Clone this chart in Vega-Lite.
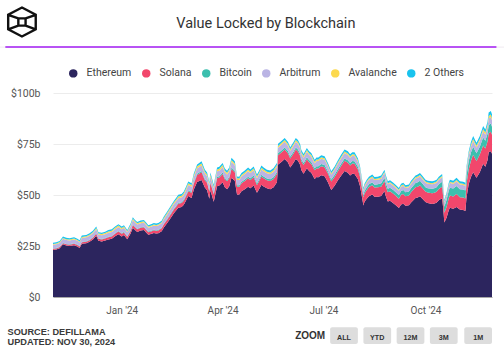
{
  "$schema": "https://vega.github.io/schema/vega-lite/v6.json",
  "width": 439,
  "height": 204,
  "autosize": {"type": "none"},
  "padding": {"left": 53, "top": 93, "right": 12, "bottom": 55},
  "background": "white",
  "config": {"view": {"stroke": null}, "font": "Roboto"},
  "datasets": {
    "chains": [
      {"chain": "Ethereum", "rank": 1},
      {"chain": "Solana", "rank": 2},
      {"chain": "Bitcoin", "rank": 3},
      {"chain": "Arbitrum", "rank": 4},
      {"chain": "Avalanche", "rank": 5},
      {"chain": "2 Others", "rank": 6}
    ],
    "tvl": [
      {"date":"2023-10-31","Ethereum":23.1,"Solana":0.5,"Bitcoin":0.2,"Arbitrum":1.8,"Avalanche":0.4,"2 Others":0.6},
      {"date":"2023-11-03","Ethereum":23.3,"Solana":0.5,"Bitcoin":0.2,"Arbitrum":1.8,"Avalanche":0.4,"2 Others":0.6},
      {"date":"2023-11-06","Ethereum":23.9,"Solana":0.55,"Bitcoin":0.2,"Arbitrum":1.85,"Avalanche":0.4,"2 Others":0.6},
      {"date":"2023-11-09","Ethereum":25.8,"Solana":0.6,"Bitcoin":0.2,"Arbitrum":1.9,"Avalanche":0.45,"2 Others":0.65},
      {"date":"2023-11-12","Ethereum":25.2,"Solana":0.6,"Bitcoin":0.2,"Arbitrum":1.9,"Avalanche":0.45,"2 Others":0.65},
      {"date":"2023-11-15","Ethereum":25.0,"Solana":0.65,"Bitcoin":0.2,"Arbitrum":1.9,"Avalanche":0.45,"2 Others":0.6},
      {"date":"2023-11-19","Ethereum":25.4,"Solana":0.7,"Bitcoin":0.2,"Arbitrum":1.9,"Avalanche":0.45,"2 Others":0.65},
      {"date":"2023-11-22","Ethereum":24.8,"Solana":0.7,"Bitcoin":0.2,"Arbitrum":1.85,"Avalanche":0.45,"2 Others":0.6},
      {"date":"2023-11-24","Ethereum":24.05,"Solana":0.7,"Bitcoin":0.2,"Arbitrum":1.8,"Avalanche":0.45,"2 Others":0.6},
      {"date":"2023-11-26","Ethereum":26.1,"Solana":0.75,"Bitcoin":0.2,"Arbitrum":1.9,"Avalanche":0.5,"2 Others":0.65},
      {"date":"2023-11-30","Ethereum":26.33,"Solana":0.8,"Bitcoin":0.22,"Arbitrum":1.9,"Avalanche":0.5,"2 Others":0.65},
      {"date":"2023-12-03","Ethereum":27.03,"Solana":0.85,"Bitcoin":0.22,"Arbitrum":1.95,"Avalanche":0.5,"2 Others":0.65},
      {"date":"2023-12-06","Ethereum":28.2,"Solana":0.9,"Bitcoin":0.25,"Arbitrum":1.95,"Avalanche":0.5,"2 Others":0.7},
      {"date":"2023-12-09","Ethereum":30.05,"Solana":0.95,"Bitcoin":0.25,"Arbitrum":2.0,"Avalanche":0.55,"2 Others":0.7},
      {"date":"2023-12-11","Ethereum":27.6,"Solana":0.9,"Bitcoin":0.25,"Arbitrum":1.9,"Avalanche":0.5,"2 Others":0.65},
      {"date":"2023-12-14","Ethereum":27.2,"Solana":0.95,"Bitcoin":0.25,"Arbitrum":1.9,"Avalanche":0.55,"2 Others":0.65},
      {"date":"2023-12-17","Ethereum":27.65,"Solana":1.0,"Bitcoin":0.25,"Arbitrum":1.9,"Avalanche":0.55,"2 Others":0.65},
      {"date":"2023-12-20","Ethereum":28.2,"Solana":1.1,"Bitcoin":0.25,"Arbitrum":1.95,"Avalanche":0.6,"2 Others":0.7},
      {"date":"2023-12-23","Ethereum":28.52,"Solana":1.15,"Bitcoin":0.28,"Arbitrum":1.95,"Avalanche":0.6,"2 Others":0.7},
      {"date":"2023-12-26","Ethereum":29.72,"Solana":1.25,"Bitcoin":0.28,"Arbitrum":2.0,"Avalanche":0.65,"2 Others":0.7},
      {"date":"2023-12-29","Ethereum":30.75,"Solana":1.3,"Bitcoin":0.3,"Arbitrum":2.0,"Avalanche":0.65,"2 Others":0.7},
      {"date":"2024-01-01","Ethereum":29.65,"Solana":1.3,"Bitcoin":0.3,"Arbitrum":1.95,"Avalanche":0.6,"2 Others":0.7},
      {"date":"2024-01-03","Ethereum":30.35,"Solana":1.3,"Bitcoin":0.3,"Arbitrum":1.95,"Avalanche":0.6,"2 Others":0.7},
      {"date":"2024-01-06","Ethereum":28.32,"Solana":1.2,"Bitcoin":0.28,"Arbitrum":1.9,"Avalanche":0.55,"2 Others":0.65},
      {"date":"2024-01-09","Ethereum":31.1,"Solana":1.3,"Bitcoin":0.3,"Arbitrum":2.0,"Avalanche":0.6,"2 Others":0.7},
      {"date":"2024-01-11","Ethereum":33.9,"Solana":1.4,"Bitcoin":0.3,"Arbitrum":2.1,"Avalanche":0.65,"2 Others":0.75},
      {"date":"2024-01-13","Ethereum":32.8,"Solana":1.35,"Bitcoin":0.3,"Arbitrum":2.05,"Avalanche":0.6,"2 Others":0.7},
      {"date":"2024-01-15","Ethereum":31.9,"Solana":1.3,"Bitcoin":0.3,"Arbitrum":2.0,"Avalanche":0.6,"2 Others":0.7},
      {"date":"2024-01-18","Ethereum":32.55,"Solana":1.35,"Bitcoin":0.3,"Arbitrum":2.0,"Avalanche":0.6,"2 Others":0.7},
      {"date":"2024-01-21","Ethereum":32.8,"Solana":1.35,"Bitcoin":0.3,"Arbitrum":2.05,"Avalanche":0.6,"2 Others":0.7},
      {"date":"2024-01-23","Ethereum":31.65,"Solana":1.3,"Bitcoin":0.3,"Arbitrum":2.0,"Avalanche":0.55,"2 Others":0.7},
      {"date":"2024-01-25","Ethereum":30.5,"Solana":1.25,"Bitcoin":0.3,"Arbitrum":1.95,"Avalanche":0.55,"2 Others":0.65},
      {"date":"2024-01-28","Ethereum":30.95,"Solana":1.3,"Bitcoin":0.3,"Arbitrum":2.0,"Avalanche":0.55,"2 Others":0.7},
      {"date":"2024-01-30","Ethereum":31.35,"Solana":1.35,"Bitcoin":0.3,"Arbitrum":2.0,"Avalanche":0.6,"2 Others":0.7},
      {"date":"2024-02-01","Ethereum":31.1,"Solana":1.35,"Bitcoin":0.3,"Arbitrum":2.0,"Avalanche":0.55,"2 Others":0.7},
      {"date":"2024-02-03","Ethereum":31.25,"Solana":1.4,"Bitcoin":0.3,"Arbitrum":2.05,"Avalanche":0.6,"2 Others":0.7},
      {"date":"2024-02-06","Ethereum":32.23,"Solana":1.45,"Bitcoin":0.32,"Arbitrum":2.1,"Avalanche":0.6,"2 Others":0.7},
      {"date":"2024-02-08","Ethereum":34.07,"Solana":1.55,"Bitcoin":0.33,"Arbitrum":2.15,"Avalanche":0.65,"2 Others":0.75},
      {"date":"2024-02-11","Ethereum":36.25,"Solana":1.65,"Bitcoin":0.35,"Arbitrum":2.2,"Avalanche":0.7,"2 Others":0.75},
      {"date":"2024-02-14","Ethereum":38.63,"Solana":1.75,"Bitcoin":0.37,"Arbitrum":2.25,"Avalanche":0.7,"2 Others":0.8},
      {"date":"2024-02-17","Ethereum":41.05,"Solana":1.8,"Bitcoin":0.4,"Arbitrum":2.3,"Avalanche":0.75,"2 Others":0.8},
      {"date":"2024-02-19","Ethereum":42.4,"Solana":1.85,"Bitcoin":0.4,"Arbitrum":2.3,"Avalanche":0.75,"2 Others":0.8},
      {"date":"2024-02-21","Ethereum":43.78,"Solana":1.9,"Bitcoin":0.42,"Arbitrum":2.35,"Avalanche":0.8,"2 Others":0.85},
      {"date":"2024-02-24","Ethereum":44.13,"Solana":1.95,"Bitcoin":0.42,"Arbitrum":2.35,"Avalanche":0.8,"2 Others":0.85},
      {"date":"2024-02-26","Ethereum":45.2,"Solana":2.0,"Bitcoin":0.45,"Arbitrum":2.4,"Avalanche":0.8,"2 Others":0.85},
      {"date":"2024-02-28","Ethereum":47.3,"Solana":2.1,"Bitcoin":0.45,"Arbitrum":2.45,"Avalanche":0.85,"2 Others":0.85},
      {"date":"2024-03-01","Ethereum":49.55,"Solana":2.3,"Bitcoin":0.5,"Arbitrum":2.5,"Avalanche":0.85,"2 Others":0.9},
      {"date":"2024-03-04","Ethereum":48.55,"Solana":2.5,"Bitcoin":0.5,"Arbitrum":2.5,"Avalanche":0.85,"2 Others":0.9},
      {"date":"2024-03-06","Ethereum":52.65,"Solana":2.9,"Bitcoin":0.55,"Arbitrum":2.6,"Avalanche":0.9,"2 Others":0.9},
      {"date":"2024-03-09","Ethereum":56.4,"Solana":3.4,"Bitcoin":0.6,"Arbitrum":2.7,"Avalanche":0.95,"2 Others":0.95},
      {"date":"2024-03-13","Ethereum":57.3,"Solana":3.8,"Bitcoin":0.65,"Arbitrum":2.75,"Avalanche":1.0,"2 Others":1.0},
      {"date":"2024-03-16","Ethereum":53.65,"Solana":3.6,"Bitcoin":0.6,"Arbitrum":2.65,"Avalanche":0.95,"2 Others":0.95},
      {"date":"2024-03-18","Ethereum":52.35,"Solana":3.6,"Bitcoin":0.6,"Arbitrum":2.6,"Avalanche":0.9,"2 Others":0.95},
      {"date":"2024-03-20","Ethereum":48.2,"Solana":3.4,"Bitcoin":0.55,"Arbitrum":2.5,"Avalanche":0.85,"2 Others":0.9},
      {"date":"2024-03-21","Ethereum":52.35,"Solana":3.6,"Bitcoin":0.6,"Arbitrum":2.6,"Avalanche":0.9,"2 Others":0.95},
      {"date":"2024-03-24","Ethereum":46.7,"Solana":3.5,"Bitcoin":0.55,"Arbitrum":2.5,"Avalanche":0.85,"2 Others":0.9},
      {"date":"2024-03-27","Ethereum":54.35,"Solana":3.9,"Bitcoin":0.65,"Arbitrum":2.7,"Avalanche":0.95,"2 Others":0.95},
      {"date":"2024-03-29","Ethereum":54.65,"Solana":3.9,"Bitcoin":0.65,"Arbitrum":2.7,"Avalanche":0.95,"2 Others":0.95},
      {"date":"2024-04-01","Ethereum":56.3,"Solana":4.0,"Bitcoin":0.7,"Arbitrum":2.75,"Avalanche":0.95,"2 Others":1.0},
      {"date":"2024-04-03","Ethereum":53.85,"Solana":3.9,"Bitcoin":0.7,"Arbitrum":2.7,"Avalanche":0.9,"2 Others":0.95},
      {"date":"2024-04-05","Ethereum":52.8,"Solana":3.9,"Bitcoin":0.7,"Arbitrum":2.65,"Avalanche":0.9,"2 Others":0.95},
      {"date":"2024-04-07","Ethereum":54.25,"Solana":4.0,"Bitcoin":0.7,"Arbitrum":2.7,"Avalanche":0.9,"2 Others":0.95},
      {"date":"2024-04-09","Ethereum":58.5,"Solana":4.2,"Bitcoin":0.75,"Arbitrum":2.8,"Avalanche":0.95,"2 Others":1.0},
      {"date":"2024-04-12","Ethereum":57.0,"Solana":4.1,"Bitcoin":0.75,"Arbitrum":2.75,"Avalanche":0.9,"2 Others":1.0},
      {"date":"2024-04-14","Ethereum":50.3,"Solana":3.8,"Bitcoin":0.7,"Arbitrum":2.55,"Avalanche":0.8,"2 Others":0.95},
      {"date":"2024-04-16","Ethereum":50.25,"Solana":3.8,"Bitcoin":0.7,"Arbitrum":2.55,"Avalanche":0.8,"2 Others":0.9},
      {"date":"2024-04-18","Ethereum":51.8,"Solana":3.9,"Bitcoin":0.75,"Arbitrum":2.6,"Avalanche":0.8,"2 Others":0.95},
      {"date":"2024-04-21","Ethereum":52.85,"Solana":4.0,"Bitcoin":0.8,"Arbitrum":2.6,"Avalanche":0.8,"2 Others":0.95},
      {"date":"2024-04-24","Ethereum":54.1,"Solana":4.1,"Bitcoin":0.8,"Arbitrum":2.65,"Avalanche":0.85,"2 Others":1.0},
      {"date":"2024-04-26","Ethereum":53.35,"Solana":4.0,"Bitcoin":0.8,"Arbitrum":2.6,"Avalanche":0.8,"2 Others":0.95},
      {"date":"2024-04-29","Ethereum":54.6,"Solana":4.1,"Bitcoin":0.8,"Arbitrum":2.65,"Avalanche":0.85,"2 Others":1.0},
      {"date":"2024-05-02","Ethereum":51.05,"Solana":3.9,"Bitcoin":0.8,"Arbitrum":2.5,"Avalanche":0.8,"2 Others":0.95},
      {"date":"2024-05-04","Ethereum":52.9,"Solana":4.0,"Bitcoin":0.8,"Arbitrum":2.55,"Avalanche":0.8,"2 Others":0.95},
      {"date":"2024-05-06","Ethereum":55.0,"Solana":4.1,"Bitcoin":0.85,"Arbitrum":2.6,"Avalanche":0.85,"2 Others":1.0},
      {"date":"2024-05-08","Ethereum":54.15,"Solana":4.1,"Bitcoin":0.85,"Arbitrum":2.6,"Avalanche":0.8,"2 Others":1.0},
      {"date":"2024-05-11","Ethereum":53.25,"Solana":4.0,"Bitcoin":0.85,"Arbitrum":2.55,"Avalanche":0.8,"2 Others":0.95},
      {"date":"2024-05-14","Ethereum":52.85,"Solana":4.0,"Bitcoin":0.85,"Arbitrum":2.55,"Avalanche":0.8,"2 Others":0.95},
      {"date":"2024-05-17","Ethereum":53.8,"Solana":4.1,"Bitcoin":0.9,"Arbitrum":2.6,"Avalanche":0.8,"2 Others":1.0},
      {"date":"2024-05-20","Ethereum":56.2,"Solana":4.2,"Bitcoin":0.9,"Arbitrum":2.6,"Avalanche":0.8,"2 Others":1.0},
      {"date":"2024-05-21","Ethereum":65.0,"Solana":4.5,"Bitcoin":0.95,"Arbitrum":2.75,"Avalanche":0.85,"2 Others":1.05},
      {"date":"2024-05-24","Ethereum":66.2,"Solana":4.6,"Bitcoin":1.0,"Arbitrum":2.8,"Avalanche":0.85,"2 Others":1.05},
      {"date":"2024-05-27","Ethereum":67.7,"Solana":4.6,"Bitcoin":1.0,"Arbitrum":2.8,"Avalanche":0.85,"2 Others":1.05},
      {"date":"2024-05-30","Ethereum":65.9,"Solana":4.5,"Bitcoin":1.0,"Arbitrum":2.75,"Avalanche":0.85,"2 Others":1.0},
      {"date":"2024-06-01","Ethereum":63.5,"Solana":4.4,"Bitcoin":1.0,"Arbitrum":2.7,"Avalanche":0.8,"2 Others":1.0},
      {"date":"2024-06-04","Ethereum":65.85,"Solana":4.5,"Bitcoin":1.0,"Arbitrum":2.75,"Avalanche":0.85,"2 Others":1.05},
      {"date":"2024-06-06","Ethereum":67.65,"Solana":4.6,"Bitcoin":1.05,"Arbitrum":2.8,"Avalanche":0.85,"2 Others":1.05},
      {"date":"2024-06-08","Ethereum":66.8,"Solana":4.5,"Bitcoin":1.05,"Arbitrum":2.75,"Avalanche":0.85,"2 Others":1.05},
      {"date":"2024-06-10","Ethereum":64.75,"Solana":4.4,"Bitcoin":1.05,"Arbitrum":2.7,"Avalanche":0.8,"2 Others":1.0},
      {"date":"2024-06-11","Ethereum":62.25,"Solana":4.3,"Bitcoin":1.0,"Arbitrum":2.65,"Avalanche":0.8,"2 Others":1.0},
      {"date":"2024-06-13","Ethereum":60.4,"Solana":4.3,"Bitcoin":1.0,"Arbitrum":2.6,"Avalanche":0.8,"2 Others":1.0},
      {"date":"2024-06-16","Ethereum":63.1,"Solana":4.4,"Bitcoin":1.05,"Arbitrum":2.65,"Avalanche":0.8,"2 Others":1.0},
      {"date":"2024-06-18","Ethereum":61.75,"Solana":4.3,"Bitcoin":1.05,"Arbitrum":2.6,"Avalanche":0.8,"2 Others":1.0},
      {"date":"2024-06-20","Ethereum":60.85,"Solana":4.3,"Bitcoin":1.05,"Arbitrum":2.6,"Avalanche":0.8,"2 Others":1.0},
      {"date":"2024-06-23","Ethereum":57.9,"Solana":4.2,"Bitcoin":1.0,"Arbitrum":2.5,"Avalanche":0.75,"2 Others":0.95},
      {"date":"2024-06-25","Ethereum":58.9,"Solana":4.3,"Bitcoin":1.05,"Arbitrum":2.55,"Avalanche":0.75,"2 Others":0.95},
      {"date":"2024-06-26","Ethereum":58.6,"Solana":4.3,"Bitcoin":1.05,"Arbitrum":2.55,"Avalanche":0.75,"2 Others":0.95},
      {"date":"2024-06-29","Ethereum":59.65,"Solana":4.4,"Bitcoin":1.1,"Arbitrum":2.6,"Avalanche":0.75,"2 Others":1.0},
      {"date":"2024-07-02","Ethereum":59.15,"Solana":4.4,"Bitcoin":1.1,"Arbitrum":2.6,"Avalanche":0.75,"2 Others":1.0},
      {"date":"2024-07-05","Ethereum":56.3,"Solana":4.2,"Bitcoin":1.05,"Arbitrum":2.5,"Avalanche":0.7,"2 Others":0.95},
      {"date":"2024-07-08","Ethereum":52.5,"Solana":4.1,"Bitcoin":1.0,"Arbitrum":2.4,"Avalanche":0.7,"2 Others":0.9},
      {"date":"2024-07-11","Ethereum":54.55,"Solana":4.3,"Bitcoin":1.05,"Arbitrum":2.45,"Avalanche":0.7,"2 Others":0.95},
      {"date":"2024-07-14","Ethereum":57.2,"Solana":4.5,"Bitcoin":1.1,"Arbitrum":2.5,"Avalanche":0.75,"2 Others":0.95},
      {"date":"2024-07-17","Ethereum":59.55,"Solana":4.8,"Bitcoin":1.15,"Arbitrum":2.55,"Avalanche":0.75,"2 Others":1.0},
      {"date":"2024-07-20","Ethereum":61.75,"Solana":5.0,"Bitcoin":1.2,"Arbitrum":2.6,"Avalanche":0.75,"2 Others":1.0},
      {"date":"2024-07-23","Ethereum":60.85,"Solana":5.0,"Bitcoin":1.2,"Arbitrum":2.6,"Avalanche":0.75,"2 Others":1.0},
      {"date":"2024-07-25","Ethereum":59.6,"Solana":4.9,"Bitcoin":1.2,"Arbitrum":2.55,"Avalanche":0.75,"2 Others":1.0},
      {"date":"2024-07-27","Ethereum":60.45,"Solana":5.0,"Bitcoin":1.2,"Arbitrum":2.6,"Avalanche":0.75,"2 Others":1.0},
      {"date":"2024-07-29","Ethereum":60.35,"Solana":5.0,"Bitcoin":1.2,"Arbitrum":2.6,"Avalanche":0.75,"2 Others":1.0},
      {"date":"2024-08-01","Ethereum":57.85,"Solana":4.8,"Bitcoin":1.2,"Arbitrum":2.5,"Avalanche":0.7,"2 Others":0.95},
      {"date":"2024-08-03","Ethereum":54.25,"Solana":4.6,"Bitcoin":1.15,"Arbitrum":2.4,"Avalanche":0.65,"2 Others":0.95},
      {"date":"2024-08-05","Ethereum":48.2,"Solana":4.0,"Bitcoin":1.1,"Arbitrum":2.2,"Avalanche":0.6,"2 Others":0.9},
      {"date":"2024-08-06","Ethereum":44.9,"Solana":3.9,"Bitcoin":1.1,"Arbitrum":2.1,"Avalanche":0.55,"2 Others":0.85},
      {"date":"2024-08-07","Ethereum":46.65,"Solana":4.1,"Bitcoin":1.2,"Arbitrum":2.15,"Avalanche":0.55,"2 Others":0.85},
      {"date":"2024-08-09","Ethereum":48.2,"Solana":4.3,"Bitcoin":1.3,"Arbitrum":2.2,"Avalanche":0.6,"2 Others":0.9},
      {"date":"2024-08-11","Ethereum":49.4,"Solana":4.5,"Bitcoin":1.35,"Arbitrum":2.25,"Avalanche":0.6,"2 Others":0.9},
      {"date":"2024-08-14","Ethereum":50.2,"Solana":4.6,"Bitcoin":1.4,"Arbitrum":2.3,"Avalanche":0.6,"2 Others":0.9},
      {"date":"2024-08-16","Ethereum":49.15,"Solana":4.5,"Bitcoin":1.4,"Arbitrum":2.25,"Avalanche":0.6,"2 Others":0.9},
      {"date":"2024-08-19","Ethereum":49.15,"Solana":4.6,"Bitcoin":1.5,"Arbitrum":2.25,"Avalanche":0.6,"2 Others":0.9},
      {"date":"2024-08-22","Ethereum":49.5,"Solana":4.6,"Bitcoin":1.6,"Arbitrum":2.3,"Avalanche":0.6,"2 Others":0.9},
      {"date":"2024-08-25","Ethereum":52.0,"Solana":4.8,"Bitcoin":1.7,"Arbitrum":2.35,"Avalanche":0.6,"2 Others":0.95},
      {"date":"2024-08-26","Ethereum":49.8,"Solana":4.7,"Bitcoin":1.7,"Arbitrum":2.3,"Avalanche":0.6,"2 Others":0.9},
      {"date":"2024-08-28","Ethereum":46.85,"Solana":4.5,"Bitcoin":1.7,"Arbitrum":2.2,"Avalanche":0.55,"2 Others":0.9},
      {"date":"2024-08-30","Ethereum":47.2,"Solana":4.6,"Bitcoin":1.75,"Arbitrum":2.2,"Avalanche":0.55,"2 Others":0.9},
      {"date":"2024-09-02","Ethereum":46.0,"Solana":4.6,"Bitcoin":1.8,"Arbitrum":2.15,"Avalanche":0.55,"2 Others":0.9},
      {"date":"2024-09-04","Ethereum":45.1,"Solana":4.6,"Bitcoin":1.8,"Arbitrum":2.1,"Avalanche":0.55,"2 Others":0.85},
      {"date":"2024-09-07","Ethereum":43.65,"Solana":4.5,"Bitcoin":1.8,"Arbitrum":2.1,"Avalanche":0.5,"2 Others":0.85},
      {"date":"2024-09-09","Ethereum":45.4,"Solana":4.7,"Bitcoin":1.85,"Arbitrum":2.15,"Avalanche":0.55,"2 Others":0.85},
      {"date":"2024-09-11","Ethereum":45.7,"Solana":4.8,"Bitcoin":1.9,"Arbitrum":2.15,"Avalanche":0.55,"2 Others":0.9},
      {"date":"2024-09-13","Ethereum":44.7,"Solana":4.7,"Bitcoin":1.9,"Arbitrum":2.1,"Avalanche":0.55,"2 Others":0.85},
      {"date":"2024-09-16","Ethereum":44.95,"Solana":4.8,"Bitcoin":1.95,"Arbitrum":2.1,"Avalanche":0.55,"2 Others":0.85},
      {"date":"2024-09-18","Ethereum":46.35,"Solana":5.0,"Bitcoin":2.0,"Arbitrum":2.2,"Avalanche":0.55,"2 Others":0.9},
      {"date":"2024-09-22","Ethereum":48.55,"Solana":5.2,"Bitcoin":2.1,"Arbitrum":2.25,"Avalanche":0.6,"2 Others":0.9},
      {"date":"2024-09-24","Ethereum":48.8,"Solana":5.3,"Bitcoin":2.1,"Arbitrum":2.3,"Avalanche":0.6,"2 Others":0.9},
      {"date":"2024-09-26","Ethereum":49.4,"Solana":5.4,"Bitcoin":2.15,"Arbitrum":2.3,"Avalanche":0.6,"2 Others":0.95},
      {"date":"2024-09-28","Ethereum":48.3,"Solana":5.3,"Bitcoin":2.15,"Arbitrum":2.25,"Avalanche":0.6,"2 Others":0.9},
      {"date":"2024-10-01","Ethereum":46.55,"Solana":5.2,"Bitcoin":2.1,"Arbitrum":2.2,"Avalanche":0.55,"2 Others":0.9},
      {"date":"2024-10-03","Ethereum":46.05,"Solana":5.2,"Bitcoin":2.1,"Arbitrum":2.2,"Avalanche":0.55,"2 Others":0.9},
      {"date":"2024-10-07","Ethereum":45.6,"Solana":5.3,"Bitcoin":2.15,"Arbitrum":2.2,"Avalanche":0.55,"2 Others":0.9},
      {"date":"2024-10-09","Ethereum":45.85,"Solana":5.3,"Bitcoin":2.2,"Arbitrum":2.2,"Avalanche":0.55,"2 Others":0.9},
      {"date":"2024-10-11","Ethereum":46.25,"Solana":5.4,"Bitcoin":2.2,"Arbitrum":2.2,"Avalanche":0.55,"2 Others":0.9},
      {"date":"2024-10-13","Ethereum":47.45,"Solana":5.5,"Bitcoin":2.3,"Arbitrum":2.25,"Avalanche":0.6,"2 Others":0.9},
      {"date":"2024-10-16","Ethereum":48.45,"Solana":5.6,"Bitcoin":2.4,"Arbitrum":2.3,"Avalanche":0.6,"2 Others":0.95},
      {"date":"2024-10-17","Ethereum":43.55,"Solana":5.4,"Bitcoin":2.4,"Arbitrum":2.2,"Avalanche":0.55,"2 Others":0.9},
      {"date":"2024-10-18","Ethereum":36.5,"Solana":4.8,"Bitcoin":3.0,"Arbitrum":2.0,"Avalanche":0.5,"2 Others":0.8},
      {"date":"2024-10-20","Ethereum":38.9,"Solana":5.2,"Bitcoin":3.4,"Arbitrum":2.1,"Avalanche":0.55,"2 Others":0.85},
      {"date":"2024-10-22","Ethereum":42.55,"Solana":5.8,"Bitcoin":3.8,"Arbitrum":2.3,"Avalanche":0.6,"2 Others":0.95},
      {"date":"2024-10-23","Ethereum":43.7,"Solana":6.0,"Bitcoin":3.9,"Arbitrum":2.35,"Avalanche":0.6,"2 Others":0.95},
      {"date":"2024-10-26","Ethereum":43.25,"Solana":6.0,"Bitcoin":3.9,"Arbitrum":2.3,"Avalanche":0.6,"2 Others":0.95},
      {"date":"2024-10-29","Ethereum":44.15,"Solana":6.3,"Bitcoin":4.0,"Arbitrum":2.35,"Avalanche":0.6,"2 Others":1.0},
      {"date":"2024-11-01","Ethereum":42.85,"Solana":6.1,"Bitcoin":3.9,"Arbitrum":2.3,"Avalanche":0.6,"2 Others":0.95},
      {"date":"2024-11-04","Ethereum":42.65,"Solana":6.1,"Bitcoin":3.9,"Arbitrum":2.3,"Avalanche":0.6,"2 Others":0.95},
      {"date":"2024-11-06","Ethereum":42.15,"Solana":6.1,"Bitcoin":3.9,"Arbitrum":2.3,"Avalanche":0.6,"2 Others":0.95},
      {"date":"2024-11-07","Ethereum":48.75,"Solana":6.8,"Bitcoin":4.0,"Arbitrum":2.6,"Avalanche":0.75,"2 Others":1.1},
      {"date":"2024-11-09","Ethereum":55.35,"Solana":7.2,"Bitcoin":4.1,"Arbitrum":2.75,"Avalanche":0.85,"2 Others":1.25},
      {"date":"2024-11-11","Ethereum":58.8,"Solana":8.0,"Bitcoin":4.0,"Arbitrum":2.9,"Avalanche":0.95,"2 Others":1.35},
      {"date":"2024-11-13","Ethereum":61.2,"Solana":8.5,"Bitcoin":3.9,"Arbitrum":2.9,"Avalanche":1.0,"2 Others":1.4},
      {"date":"2024-11-16","Ethereum":58.4,"Solana":8.3,"Bitcoin":3.8,"Arbitrum":2.8,"Avalanche":0.95,"2 Others":1.35},
      {"date":"2024-11-19","Ethereum":61.2,"Solana":8.6,"Bitcoin":3.8,"Arbitrum":2.9,"Avalanche":1.0,"2 Others":1.4},
      {"date":"2024-11-22","Ethereum":65.3,"Solana":9.0,"Bitcoin":3.9,"Arbitrum":3.0,"Avalanche":1.1,"2 Others":1.5},
      {"date":"2024-11-24","Ethereum":63.85,"Solana":8.9,"Bitcoin":3.8,"Arbitrum":3.0,"Avalanche":1.05,"2 Others":1.5},
      {"date":"2024-11-26","Ethereum":67.2,"Solana":9.1,"Bitcoin":3.9,"Arbitrum":3.1,"Avalanche":1.1,"2 Others":1.6},
      {"date":"2024-11-27","Ethereum":70.9,"Solana":9.4,"Bitcoin":4.0,"Arbitrum":3.2,"Avalanche":1.2,"2 Others":1.7},
      {"date":"2024-11-29","Ethereum":71.5,"Solana":9.5,"Bitcoin":4.0,"Arbitrum":3.2,"Avalanche":1.2,"2 Others":1.8},
      {"date":"2024-11-30","Ethereum":70.2,"Solana":9.3,"Bitcoin":3.9,"Arbitrum":3.2,"Avalanche":1.15,"2 Others":1.75}
    ]
  },
  "layer": [
    {
      "data": {"name": "tvl"},
      "transform": [
        {"fold": ["Ethereum", "Solana", "Bitcoin", "Arbitrum", "Avalanche", "2 Others"], "as": ["chain", "tvl"]},
        {"lookup": "chain", "from": {"data": {"name": "chains"}, "key": "chain", "fields": ["rank"]}}
      ],
      "mark": {"type": "area", "interpolate": "linear"},
      "encoding": {
        "x": {
          "field": "date", "type": "temporal", "title": null,
          "scale": {"domain": [{"year": 2023, "month": 10, "date": 31}, {"year": 2024, "month": 11, "date": 30}]},
          "axis": {
            "values": [{"year": 2024, "month": 1, "date": 1}, {"year": 2024, "month": 4, "date": 1}, {"year": 2024, "month": 7, "date": 1}, {"year": 2024, "month": 10, "date": 1}],
            "format": "%b '%y", "ticks": false, "grid": false, "domainColor": "#a8a8a8", "domainWidth": 1,
            "labelFont": "Roboto", "labelFontSize": 10, "labelColor": "#555555", "labelPadding": 8, "title": null
          }
        },
        "y": {
          "field": "tvl", "type": "quantitative", "stack": "zero", "title": null,
          "scale": {"domain": [0, 100]},
          "axis": {
            "values": [0, 25, 50, 75, 100],
            "labelExpr": "datum.value == 0 ? '$0' : '$' + datum.value + 'b'",
            "ticks": false, "domain": false, "gridColor": "#ececec", "gridWidth": 1,
            "labelFont": "Roboto", "labelFontSize": 10.5, "labelColor": "#555555", "labelPadding": 13, "title": null
          }
        },
        "order": {"field": "rank", "type": "quantitative", "sort": "ascending"},
        "color": {
          "field": "chain", "type": "nominal",
          "sort": ["Ethereum", "Solana", "Bitcoin", "Arbitrum", "Avalanche", "2 Others"],
          "scale": {
            "domain": ["Ethereum", "Solana", "Bitcoin", "Arbitrum", "Avalanche", "2 Others"],
            "range": ["#2c255e", "#f2476c", "#3cbfae", "#bab4e4", "#fcd94e", "#19c3ee"]
          },
          "legend": {
            "orient": "none", "legendX": 15, "legendY": -25, "direction": "horizontal", "columns": 6,
            "title": null, "symbolType": "circle", "symbolSize": 72, "symbolStrokeWidth": 0, "symbolOpacity": 1,
            "labelFont": "Roboto", "labelFontSize": 10.5, "labelColor": "#444444", "labelOffset": 8, "columnPadding": 9
          }
        }
      }
    },
    {
      "data": {"values": [{}]},
      "mark": {"type": "rule", "color": "#efe9f0", "strokeWidth": 1},
      "encoding": {
        "x": {"datum": {"year": 2023, "month": 9, "date": 13}, "type": "temporal", "title": null},
        "x2": {"datum": {"year": 2024, "month": 12, "date": 11}},
        "y": {"datum": 122.5, "type": "quantitative", "title": null}
      }
    },
    {
      "data": {"values": [{}]},
      "mark": {"type": "rule", "color": "#a21cf2", "strokeWidth": 1.5},
      "encoding": {
        "x": {"datum": {"year": 2023, "month": 9, "date": 18}, "type": "temporal", "title": null},
        "x2": {"datum": {"year": 2024, "month": 12, "date": 4}},
        "y": {"datum": 122.5, "type": "quantitative", "title": null}
      }
    },
    {
      "data": {"values": [{}]},
      "mark": {
        "type": "point", "filled": false, "color": "#111111", "strokeWidth": 2.4, "size": 841, "opacity": 1,
        "shape": "M0,-1L0.95,-0.5L0.95,0.5L0,1L-0.95,0.5L-0.95,-0.5Z M-0.25,-0.25L0.25,-0.25L0.25,0.25L-0.25,0.25Z M-0.95,-0.5L-0.25,-0.25 M0.95,-0.5L0.25,-0.25 M-0.95,0.5L-0.25,0.25 M0.95,0.5L0.25,0.25"
      },
      "encoding": {
        "x": {"datum": {"year": 2023, "month": 10, "date": 3}, "type": "temporal", "title": null},
        "y": {"datum": 134.8, "type": "quantitative", "title": null}
      }
    },
    {
      "data": {"values": [{}]},
      "mark": {"type": "text", "text": "Value Locked by Blockchain", "font": "Roboto", "fontSize": 14.5, "fontWeight": "normal", "color": "#333333", "align": "center", "baseline": "alphabetic"},
      "encoding": {
        "x": {"datum": {"year": 2024, "month": 5, "date": 10}, "type": "temporal", "title": null},
        "y": {"datum": 131.9, "type": "quantitative", "title": null}
      }
    },
    {
      "data": {"values": [{}]},
      "mark": {"type": "text", "text": "SOURCE: DEFILLAMA", "font": "Liberation Sans", "fontSize": 9.2, "fontWeight": "bold", "color": "#3a3a3a", "align": "left", "baseline": "alphabetic"},
      "encoding": {
        "x": {"datum": {"year": 2023, "month": 9, "date": 20}, "type": "temporal", "title": null},
        "y": {"datum": -18.6, "type": "quantitative", "title": null}
      }
    },
    {
      "data": {"values": [{}]},
      "mark": {"type": "text", "text": "UPDATED: NOV 30, 2024", "font": "Liberation Sans", "fontSize": 9.2, "fontWeight": "bold", "color": "#3a3a3a", "align": "left", "baseline": "alphabetic"},
      "encoding": {
        "x": {"datum": {"year": 2023, "month": 9, "date": 20}, "type": "temporal", "title": null},
        "y": {"datum": -23.5, "type": "quantitative", "title": null}
      }
    },
    {
      "data": {"values": [{}]},
      "mark": {"type": "text", "text": "ZOOM", "font": "Liberation Sans", "fontSize": 10, "fontWeight": "bold", "color": "#333333", "align": "center", "baseline": "alphabetic"},
      "encoding": {
        "x": {"datum": {"year": 2024, "month": 6, "date": 19}, "type": "temporal", "title": null},
        "y": {"datum": -20.6, "type": "quantitative", "title": null}
      }
    },
    {
      "data": {"values": [{}]},
      "mark": {"type": "rect", "color": "#dddddd", "cornerRadius": 2},
      "encoding": {
        "x": {"datum": {"year": 2024, "month": 7, "date": 7}, "type": "temporal", "title": null},
        "x2": {"datum": {"year": 2024, "month": 8, "date": 1}},
        "y": {"datum": -14.85, "type": "quantitative", "title": null},
        "y2": {"datum": -23.0}
      }
    },
    {
      "data": {"values": [{}]},
      "mark": {"type": "rect", "color": "#dddddd", "cornerRadius": 2},
      "encoding": {
        "x": {"datum": {"year": 2024, "month": 8, "date": 6}, "type": "temporal", "title": null},
        "x2": {"datum": {"year": 2024, "month": 8, "date": 31}},
        "y": {"datum": -14.85, "type": "quantitative", "title": null},
        "y2": {"datum": -23.0}
      }
    },
    {
      "data": {"values": [{}]},
      "mark": {"type": "rect", "color": "#dddddd", "cornerRadius": 2},
      "encoding": {
        "x": {"datum": {"year": 2024, "month": 9, "date": 5}, "type": "temporal", "title": null},
        "x2": {"datum": {"year": 2024, "month": 9, "date": 30}},
        "y": {"datum": -14.85, "type": "quantitative", "title": null},
        "y2": {"datum": -23.0}
      }
    },
    {
      "data": {"values": [{}]},
      "mark": {"type": "rect", "color": "#dddddd", "cornerRadius": 2},
      "encoding": {
        "x": {"datum": {"year": 2024, "month": 10, "date": 5}, "type": "temporal", "title": null},
        "x2": {"datum": {"year": 2024, "month": 10, "date": 30}},
        "y": {"datum": -14.85, "type": "quantitative", "title": null},
        "y2": {"datum": -23.0}
      }
    },
    {
      "data": {"values": [{}]},
      "mark": {"type": "rect", "color": "#dddddd", "cornerRadius": 2},
      "encoding": {
        "x": {"datum": {"year": 2024, "month": 11, "date": 5}, "type": "temporal", "title": null},
        "x2": {"datum": {"year": 2024, "month": 11, "date": 30}},
        "y": {"datum": -14.85, "type": "quantitative", "title": null},
        "y2": {"datum": -23.0}
      }
    },
    {
      "data": {"values": [{}]},
      "mark": {"type": "text", "text": "ALL", "font": "Liberation Sans", "fontSize": 7.2, "fontWeight": "bold", "color": "#333333", "align": "center", "baseline": "alphabetic"},
      "encoding": {
        "x": {"datum": {"year": 2024, "month": 7, "date": 19, "hours": 12}, "type": "temporal", "title": null},
        "y": {"datum": -21.1, "type": "quantitative", "title": null}
      }
    },
    {
      "data": {"values": [{}]},
      "mark": {"type": "text", "text": "YTD", "font": "Liberation Sans", "fontSize": 7.2, "fontWeight": "bold", "color": "#333333", "align": "center", "baseline": "alphabetic"},
      "encoding": {
        "x": {"datum": {"year": 2024, "month": 8, "date": 18, "hours": 12}, "type": "temporal", "title": null},
        "y": {"datum": -21.1, "type": "quantitative", "title": null}
      }
    },
    {
      "data": {"values": [{}]},
      "mark": {"type": "text", "text": "12M", "font": "Liberation Sans", "fontSize": 7.2, "fontWeight": "bold", "color": "#333333", "align": "center", "baseline": "alphabetic"},
      "encoding": {
        "x": {"datum": {"year": 2024, "month": 9, "date": 17, "hours": 12}, "type": "temporal", "title": null},
        "y": {"datum": -21.1, "type": "quantitative", "title": null}
      }
    },
    {
      "data": {"values": [{}]},
      "mark": {"type": "text", "text": "3M", "font": "Liberation Sans", "fontSize": 7.2, "fontWeight": "bold", "color": "#333333", "align": "center", "baseline": "alphabetic"},
      "encoding": {
        "x": {"datum": {"year": 2024, "month": 10, "date": 17, "hours": 12}, "type": "temporal", "title": null},
        "y": {"datum": -21.1, "type": "quantitative", "title": null}
      }
    },
    {
      "data": {"values": [{}]},
      "mark": {"type": "text", "text": "1M", "font": "Liberation Sans", "fontSize": 7.2, "fontWeight": "bold", "color": "#333333", "align": "center", "baseline": "alphabetic"},
      "encoding": {
        "x": {"datum": {"year": 2024, "month": 11, "date": 17, "hours": 12}, "type": "temporal", "title": null},
        "y": {"datum": -21.1, "type": "quantitative", "title": null}
      }
    }
  ]
}
